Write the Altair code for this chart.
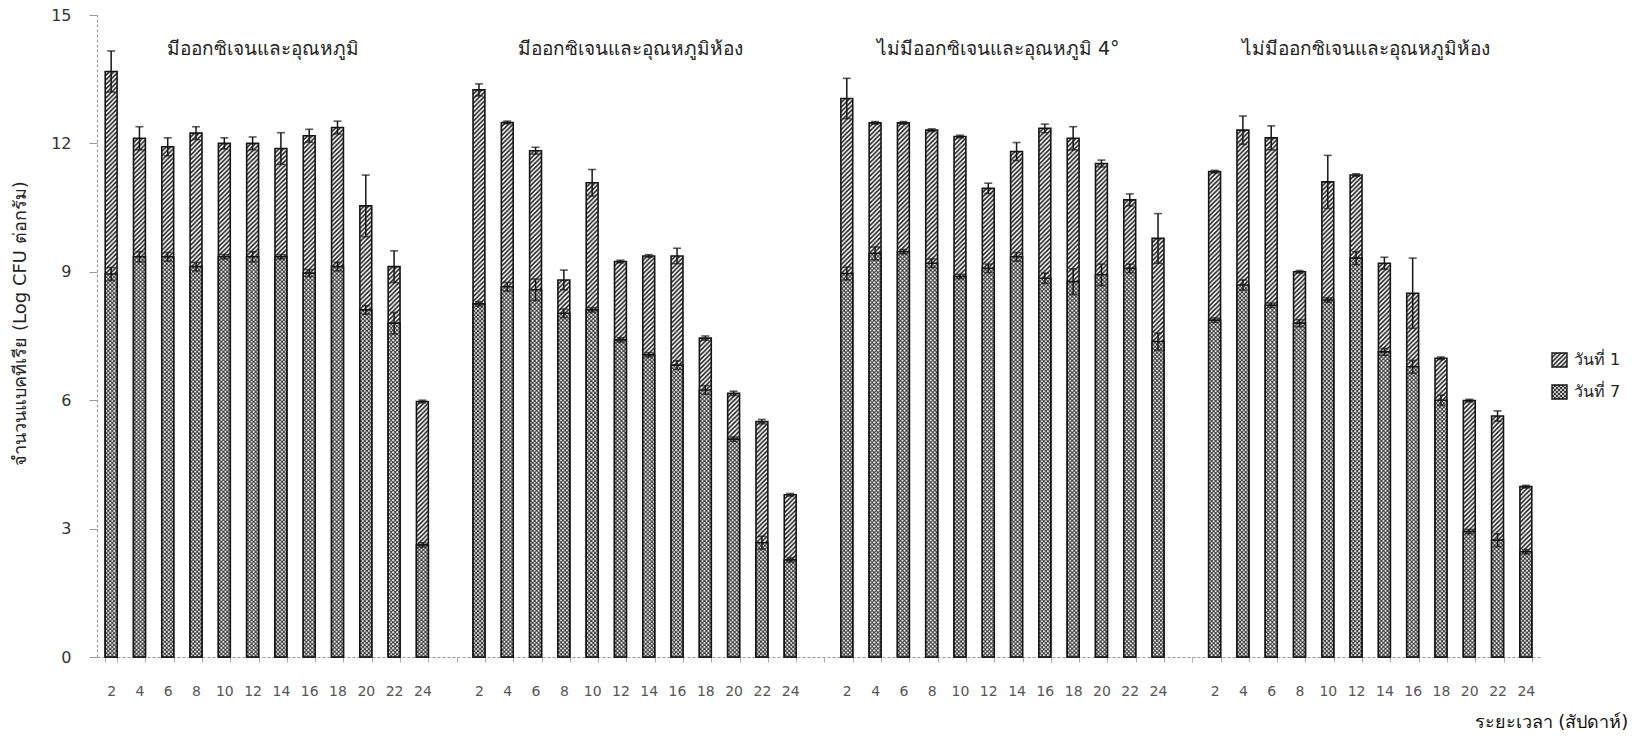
import base64

import altair as alt
import pandas as pd

# ---- data -------------------------------------------------------------
weeks = [2, 4, 6, 8, 10, 12, 14, 16, 18, 20, 22, 24]
groups = [
    "มีออกซิเจนและอุณหภูมิ",
    "มีออกซิเจนและอุณหภูมิห้อง",
    "ไม่มีออกซิเจนและอุณหภูมิ 4°",
    "ไม่มีออกซิเจนและอุณหภูมิห้อง",
]
series_names = ["วันที่ 1", "วันที่ 7"]

# first series (diagonal hatch): mean log CFU per gram and error
hatch_g1 = [13.68, 12.12, 11.92, 12.24, 12.00, 12.00, 11.88, 12.18, 12.37, 10.54, 9.12, 5.97]
hatch_g2 = [13.25, 12.49, 11.83, 8.81, 11.08, 9.24, 9.37, 9.37, 7.45, 6.16, 5.50, 3.79]
hatch_g3 = [13.05, 12.48, 12.48, 12.31, 12.16, 10.95, 11.81, 12.35, 12.12, 11.53, 10.68, 9.78]
hatch_g4 = [11.34, 12.31, 12.13, 9.00, 11.10, 11.26, 9.20, 8.50, 6.98, 5.99, 5.63, 3.98]

hatch_err_g1 = [0.48, 0.27, 0.21, 0.15, 0.13, 0.15, 0.37, 0.15, 0.15, 0.72, 0.37, 0.03]
hatch_err_g2 = [0.14, 0.03, 0.08, 0.23, 0.31, 0.03, 0.03, 0.18, 0.05, 0.05, 0.05, 0.03]
hatch_err_g3 = [0.47, 0.03, 0.03, 0.03, 0.03, 0.12, 0.21, 0.10, 0.27, 0.08, 0.14, 0.58]
hatch_err_g4 = [0.03, 0.33, 0.28, 0.03, 0.62, 0.03, 0.14, 0.82, 0.03, 0.03, 0.12, 0.03]

# second series (cross hatch)
cross_g1 = [8.95, 9.35, 9.35, 9.12, 9.35, 9.35, 9.35, 8.97, 9.12, 8.11, 7.80, 2.62]
cross_g2 = [8.25, 8.65, 8.58, 8.03, 8.11, 7.41, 7.06, 6.82, 6.24, 5.09, 2.67, 2.27]
cross_g3 = [8.96, 9.43, 9.47, 9.20, 8.89, 9.08, 9.35, 8.85, 8.77, 8.93, 9.08, 7.37]
cross_g4 = [7.87, 8.69, 8.22, 7.80, 8.34, 9.32, 7.13, 6.78, 6.00, 2.93, 2.73, 2.46]

cross_err_g1 = [0.15, 0.12, 0.10, 0.10, 0.05, 0.12, 0.05, 0.08, 0.10, 0.10, 0.25, 0.05]
cross_err_g2 = [0.05, 0.10, 0.25, 0.10, 0.05, 0.05, 0.05, 0.10, 0.10, 0.05, 0.15, 0.05]
cross_err_g3 = [0.15, 0.15, 0.05, 0.10, 0.05, 0.10, 0.10, 0.12, 0.30, 0.25, 0.10, 0.20]
cross_err_g4 = [0.05, 0.12, 0.05, 0.08, 0.05, 0.15, 0.08, 0.15, 0.12, 0.05, 0.15, 0.05]

y_ticks = [0, 3, 6, 9, 12, 15]
x_title = "ระยะเวลา (สัปดาห์)"
y_title = "จำนวนแบคทีเรีย (Log CFU ต่อกรัม)"

# ---- table --------------------------------------------------------------
hatch = [hatch_g1, hatch_g2, hatch_g3, hatch_g4]
hatch_err = [hatch_err_g1, hatch_err_g2, hatch_err_g3, hatch_err_g4]
cross = [cross_g1, cross_g2, cross_g3, cross_g4]
cross_err = [cross_err_g1, cross_err_g2, cross_err_g3, cross_err_g4]

slots = []
rows = []
for gi, name in enumerate(groups):
    if gi > 0:
        slots.append(f"gap{gi}")  # empty slot separating the groups
    for j, w in enumerate(weeks):
        key = f"g{gi + 1}-{w}"
        slots.append(key)
        rows.append(
            dict(
                slot=key,
                group=name,
                week=w,
                a=hatch[gi][j],
                a_lo=hatch[gi][j] - hatch_err[gi][j],
                a_hi=hatch[gi][j] + hatch_err[gi][j],
                b=cross[gi][j],
                b_lo=cross[gi][j] - cross_err[gi][j],
                b_hi=cross[gi][j] + cross_err[gi][j],
            )
        )
df = pd.DataFrame(rows)

title_df = pd.DataFrame({"slot": [f"g{i + 1}-12" for i in range(4)], "name": groups, "y": [14.2] * 4})


# ---- fill patterns (svg images tiled at 1:1 user units) ----------------
def pattern_uri(pattern_body, size):
    svg = (
        "<svg xmlns='http://www.w3.org/2000/svg' width='100%' height='100%'>"
        f"<defs><pattern id='p' width='{size}' height='{size}' patternUnits='userSpaceOnUse'>"
        f"{pattern_body}</pattern></defs>"
        "<rect width='100%' height='100%' fill='url(#p)'/></svg>"
    )
    return "data:image/svg+xml;base64," + base64.b64encode(svg.encode()).decode()


HATCH = pattern_uri(
    "<rect width='4.5' height='4.5' fill='white'/>"
    "<path d='M-1,1 L1,-1 M0,4.5 L4.5,0 M3.5,5.5 L5.5,3.5' stroke='#1a1a1a' stroke-width='1.5'/>",
    4.5,
)
CROSS = pattern_uri(
    "<rect width='4' height='4' fill='#3a3a3a'/>"
    "<circle cx='1' cy='1' r='0.95' fill='white'/><circle cx='3' cy='3' r='0.95' fill='white'/>",
    4,
)

FONT = "Tahoma, 'DejaVu Sans', sans-serif"
INK = "#151515"

x_enc = alt.X(
    "slot:N",
    sort=slots,
    scale=alt.Scale(domain=slots, paddingInner=0.58, paddingOuter=0.29),
    axis=alt.Axis(
        labelExpr="indexof(datum.label, 'gap') == 0 ? '' : split(datum.label, '-')[1]",
        labelAngle=0,
        labelFont=FONT,
        labelFontSize=14,
        labelColor="#555",
        labelPadding=22,
        tickBand="extent",
        tickSize=5,
        tickColor="#aaa",
        domainColor="#999",
        domainDash=[3, 2],
        title=x_title,
        titleFont=FONT,
        titleFontSize=18,
        titleFontWeight="normal",
        titleColor="#111",
        titleAlign="left",
        titleBaseline="alphabetic",
        titleX=1377,
        titleY=70,
    ),
)

y_scale = alt.Scale(domain=[0, 15], nice=False)
y_axis = alt.Axis(
    values=y_ticks,
    grid=False,
    tickSize=8,
    tickColor="#999",
    domainColor="#999",
    domainDash=[3, 2],
    labelFont=FONT,
    labelFontSize=16,
    labelColor="#333",
    labelPadding=18,
    title=y_title,
    titleFont=FONT,
    titleFontSize=18,
    titleFontWeight="normal",
    titleColor="#222",
    titleAngle=270,
    titleAlign="center",
    titleBaseline="middle",
    titleX=-77,
    titleY=308,
)

base = alt.Chart(df)

hatch_bars = base.mark_image(aspect=False).encode(
    x=x_enc,
    y=alt.Y("a:Q", scale=y_scale, axis=y_axis),
    y2=alt.datum(0),
    url=alt.value(HATCH),
)
hatch_edge = base.mark_bar(fillOpacity=0, stroke=INK, strokeWidth=1.6).encode(
    x=alt.X("slot:N", sort=slots), y=alt.Y("a:Q"), y2=alt.datum(0)
)
cross_bars = base.mark_image(aspect=False).encode(
    x=alt.X("slot:N", sort=slots), y=alt.Y("b:Q"), y2=alt.datum(0), url=alt.value(CROSS)
)
cross_edge = base.mark_bar(fillOpacity=0, stroke=INK, strokeWidth=1.6).encode(
    x=alt.X("slot:N", sort=slots), y=alt.Y("b:Q"), y2=alt.datum(0)
)


def error_layers(lo, hi):
    stem = base.mark_rule(color=INK, strokeWidth=1.5).encode(
        x=alt.X("slot:N", sort=slots), y=alt.Y(f"{lo}:Q"), y2=alt.Y2(f"{hi}:Q")
    )
    top = base.mark_tick(color=INK, thickness=1.6, size=8, orient="horizontal").encode(
        x=alt.X("slot:N", sort=slots), y=alt.Y(f"{hi}:Q")
    )
    bottom = base.mark_tick(color=INK, thickness=1.6, size=8, orient="horizontal").encode(
        x=alt.X("slot:N", sort=slots), y=alt.Y(f"{lo}:Q")
    )
    return [stem, top, bottom]


group_titles = alt.Chart(title_df).mark_text(
    font=FONT, fontSize=19, color="#222", dx=10, align="center", baseline="middle"
).encode(x=alt.X("slot:N", sort=slots), y=alt.Y("y:Q"), text="name:N")

# legend at the right edge
legend_layers = []
for i, (name, uri) in enumerate([(series_names[0], HATCH), (series_names[1], CROSS)]):
    ldf = pd.DataFrame({"label": [name]})
    top = 338 + 32 * i
    legend_layers.append(
        alt.Chart(ldf).mark_image(aspect=False).encode(
            x=alt.value(1455), x2=alt.value(1470), y=alt.value(top), y2=alt.value(top + 14), url=alt.value(uri)
        )
    )
    legend_layers.append(
        alt.Chart(ldf).mark_rect(fillOpacity=0, stroke=INK, strokeWidth=1.4).encode(
            x=alt.value(1455), x2=alt.value(1470), y=alt.value(top), y2=alt.value(top + 14)
        )
    )
    legend_layers.append(
        alt.Chart(ldf).mark_text(font=FONT, fontSize=16, color="#222", align="left", baseline="middle").encode(
            x=alt.value(1477), y=alt.value(top + 7), text="label:N"
        )
    )

chart = (
    alt.layer(
        hatch_bars,
        hatch_edge,
        cross_bars,
        cross_edge,
        *error_layers("a_lo", "a_hi"),
        *error_layers("b_lo", "b_hi"),
        group_titles,
        *legend_layers,
    )
    .properties(
        width=1443,
        height=642,
        padding={"left": 97, "top": 15, "right": 92, "bottom": 84},
        autosize=alt.AutoSizeParams(type="none"),
        background="white",
    )
    .configure_view(stroke=None)
)

chart.save("out.html", embed_options={"renderer": "svg", "actions": False})
